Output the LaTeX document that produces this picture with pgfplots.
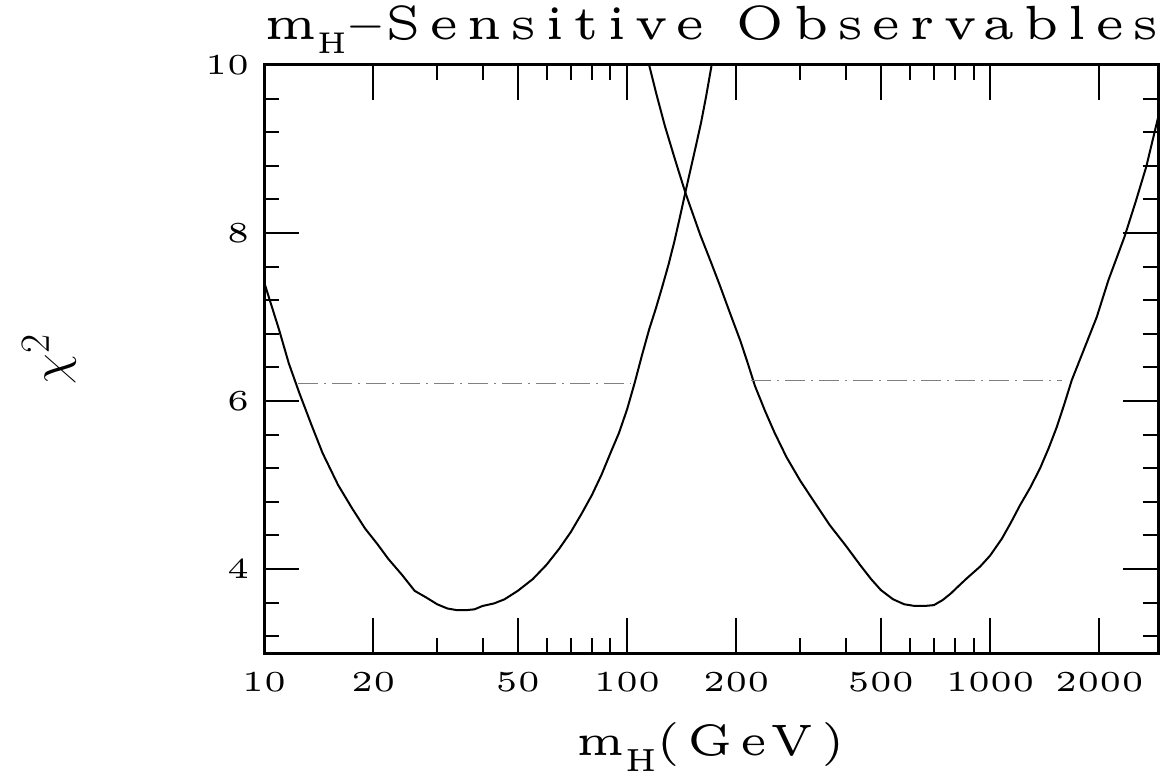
\documentclass[border=0pt]{standalone}
\usepackage{pgfplots}
\pgfplotsset{compat=1.18}
\usepackage{fontspec}
\setmainfont{lmroman5-regular.otf}
\newfontfamily\labfont{lmroman5-regular.otf}[LetterSpace=17]
\newfontfamily\tickfont{lmroman5-regular.otf}[FakeStretch=1.12]
\newcommand{\subH}[2]{\raisebox{#1}{\fontsize{#2}{#2}\selectfont H}}

\begin{document}
\begin{tikzpicture}
\begin{axis}[
  name=ax,
  scale only axis,
  width=447pt, height=294pt,
  xmode=log,
  xmin=10, xmax=2900,
  ymin=3, ymax=10,
  xtick={10,20,50,100,200,500,1000,2000},
  xticklabels={10,20,50,100,200,500,1000,2000},
  minor xtick={30,40,60,70,80,90,300,400,600,700,800,900},
  ytick={4,6,8,10},
  yticklabels={4,6,8,10},
  minor ytick={3.2,3.6,4.4,4.8,5.2,5.6,6.4,6.8,7.2,7.6,8.4,8.8,9.2,9.6},
  tick align=inside,
  major tick length=17.5pt,
  minor tick length=7.5pt,
  every tick/.style={black, line width=1pt},
  axis line style={line width=1.5pt},
  xticklabel style={font=\tickfont\fontsize{14.5}{16}\selectfont, yshift=-6pt},
  yticklabel style={font=\tickfont\fontsize{14.5}{16}\selectfont, xshift=-3.8pt},
  title={\labfont\fontsize{24}{28}\selectfont m\subH{-7pt}{15}$-$Sensitive Observables},
  title style={at={(0,1)}, anchor=base west, inner sep=0pt, yshift=6.5pt},
  xlabel={\labfont\fontsize{22}{26}\selectfont m\subH{-8pt}{16}(GeV)},
  xlabel style={at={(0.5,0)}, anchor=base, inner sep=0pt, yshift=-51pt},
  ylabel={\fontsize{30}{34}\selectfont$\chi^2$},
  ylabel style={at={(-0.24,0.5)}, anchor=center, inner sep=0pt},
  clip=true,
]
% left curve
\addplot[black, line width=1pt, no marks] coordinates {
(10,7.42) (11,6.85) (11.7,6.45) (12.5,6.10) (13.5,5.72) (14.5,5.38)
(16,5.00) (17.5,4.72) (19,4.48) (20.5,4.30) (22,4.12) (24,3.93)
(26,3.74) (28,3.66) (30,3.58) (32,3.53) (34,3.51) (36,3.51)
(38,3.52) (40,3.56) (43,3.59) (46,3.64) (50,3.74) (55,3.88)
(60,4.05) (65,4.24) (70,4.44) (75,4.66) (80,4.88) (85,5.12)
(90,5.38) (95,5.62) (100,5.90) (105,6.22) (110,6.55) (115,6.85)
(120,7.10) (125,7.36) (130,7.62) (135,7.90) (140,8.20) (145,8.50)
(150,8.78) (155,9.05) (160,9.32) (165,9.62) (171,10.0)
};
% right curve
\addplot[black, line width=1pt, no marks] coordinates {
(115,10.0) (120,9.68) (127,9.28) (135,8.90) (140,8.68) (145,8.47)
(152,8.22) (159,7.98) (170,7.66) (180,7.38) (192,7.05) (205,6.72)
(215,6.45) (225,6.18) (240,5.88) (255,5.62) (275,5.33) (300,5.05)
(330,4.78) (362,4.52) (400,4.28) (438,4.05) (470,3.88) (500,3.75)
(540,3.64) (580,3.58) (620,3.56) (660,3.56) (700,3.57) (740,3.63)
(780,3.71) (820,3.80) (863,3.89) (939,4.03) (1000,4.16) (1077,4.36)
(1140,4.55) (1209,4.76) (1290,4.97) (1373,5.20) (1450,5.44) (1526,5.69)
(1600,5.96) (1679,6.25) (1827,6.65) (1967,7.00) (2118,7.44) (2347,7.96)
(2520,8.38) (2692,8.79) (2900,9.37)
};
% 95% CL levels
\addplot[gray, line width=0.5pt, dash pattern=on 10pt off 3pt on 1pt off 3pt] coordinates {(12.4,6.21) (102,6.21)};
\addplot[gray, line width=0.5pt, dash pattern=on 10pt off 3pt on 1pt off 3pt] coordinates {(220,6.25) (1576,6.25)};
\end{axis}
\pgfresetboundingbox
\path[use as bounding box] ([xshift=-132pt,yshift=-62pt]ax.south west) rectangle ([xshift=7pt,yshift=32.5pt]ax.north east);
\end{tikzpicture}
\end{document}
